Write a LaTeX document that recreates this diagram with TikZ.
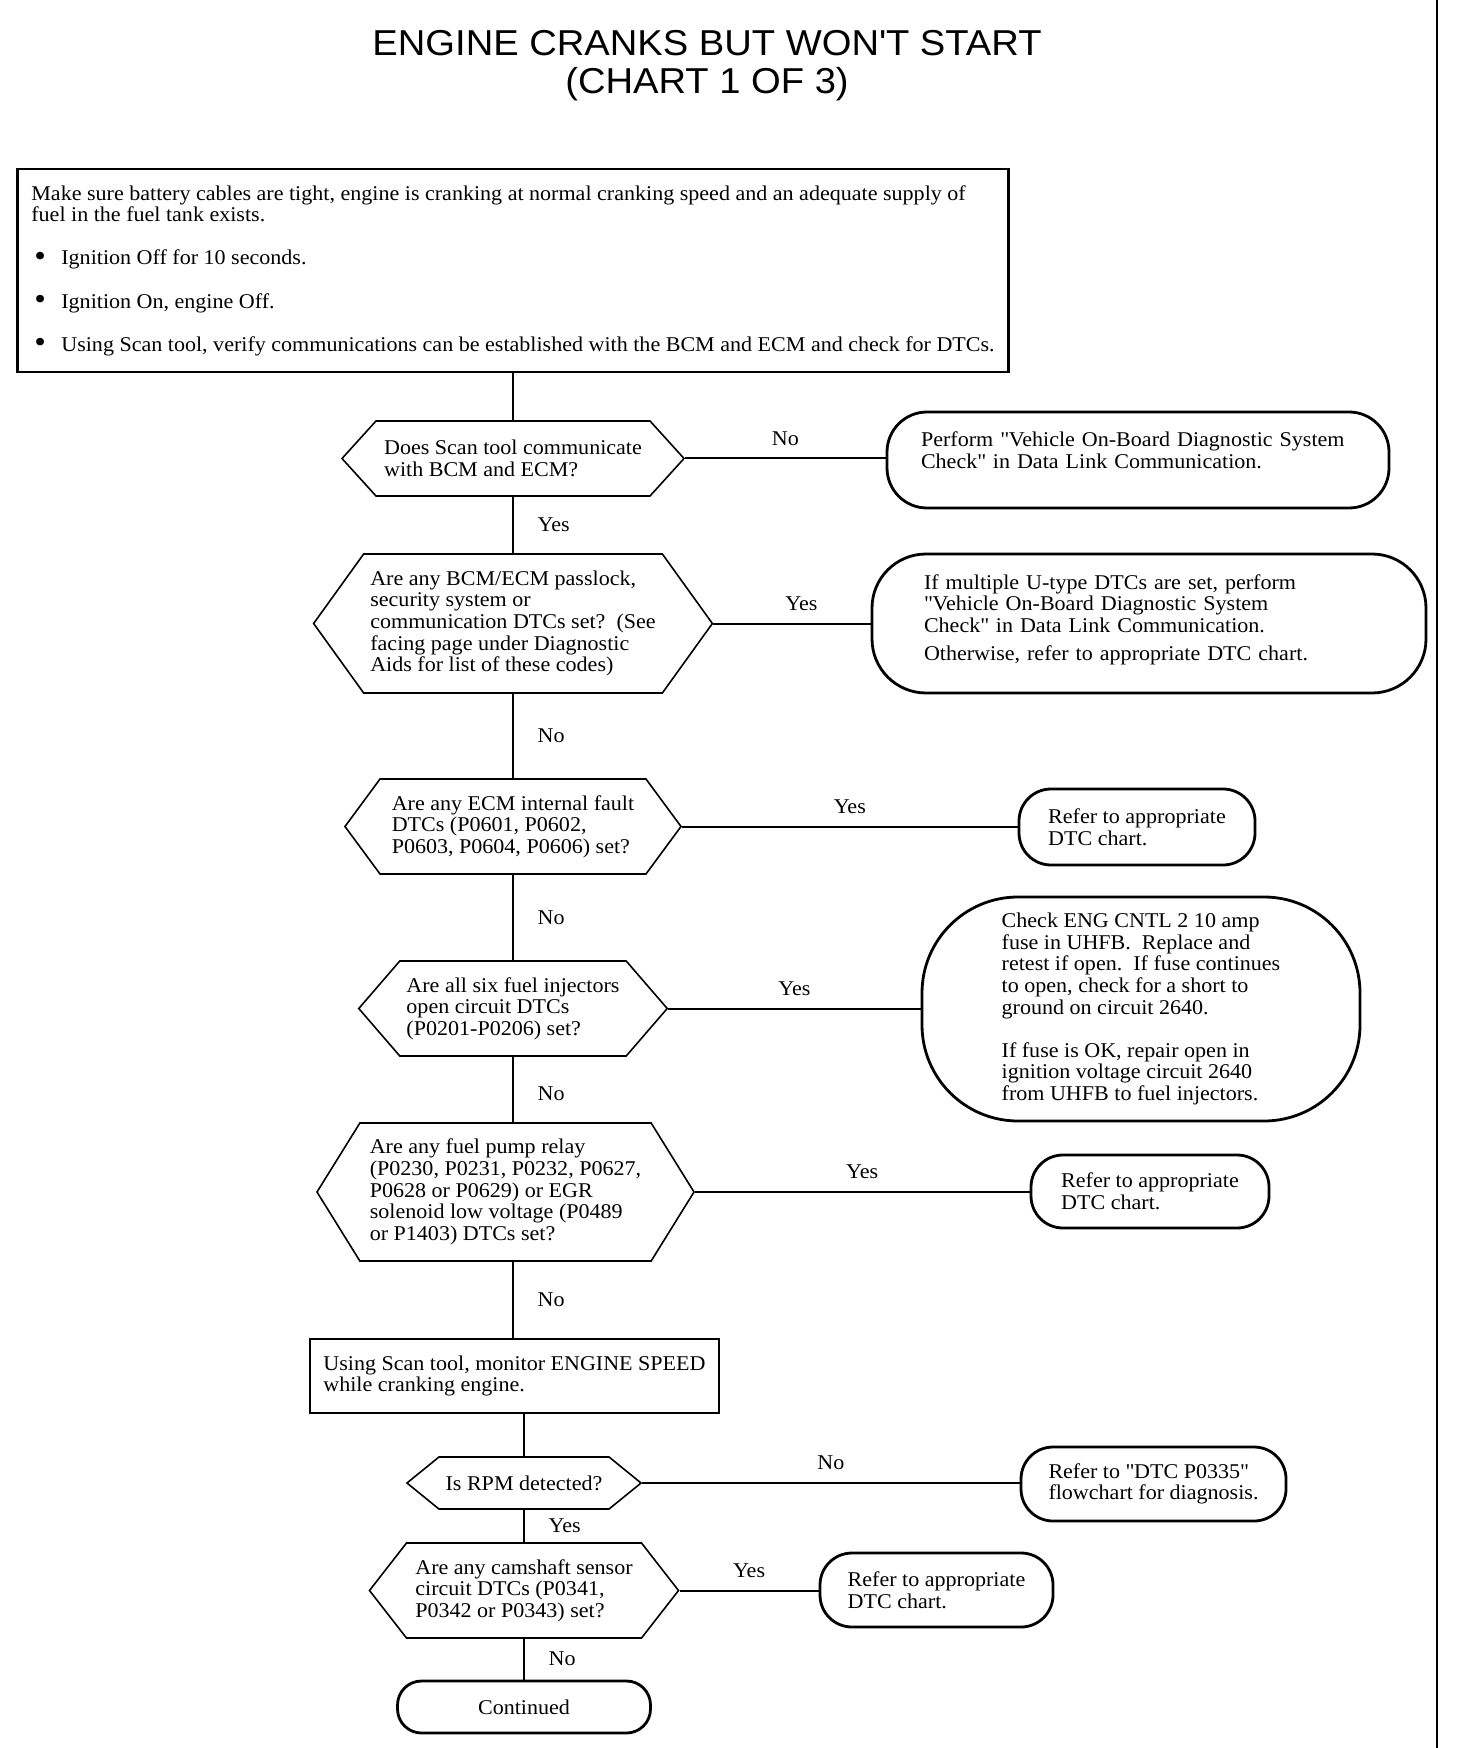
\documentclass[tikz,border=0pt]{standalone}
\usepackage{fontspec}
\setmainfont{Liberation Serif}[FakeStretch=1.05]
\newfontfamily\titlefont{Liberation Sans}[FakeStretch=1.06]
\usepackage{graphicx}
\usepackage{tikz}
\usetikzlibrary{shapes.symbols, positioning, calc}
\newcommand{\chartfont}{\fontsize{10.5pt}{10.8pt}\selectfont}
\newcommand{\dotmark}{\makebox[15pt][l]{\hspace{1.5pt}\raisebox{-0.6pt}{\scalebox{1.5}{\textbullet}}}}
\tikzstyle{task} = [rectangle, draw, line width=1.4pt, align=left, font=\chartfont]
\tikzstyle{query} = [signal, signal to=west and east, draw, line width=0.8pt, align=left, inner ysep=0pt, font=\chartfont]
\tikzstyle{outcome} = [rectangle, draw, rounded corners=16pt, line width=1.4pt, align=left, font=\chartfont]
\tikzstyle{flow} = [draw, line width=1pt]
\tikzstyle{spine} = [draw, line width=0.6pt]
\tikzstyle{answer} = [font=\chartfont, inner sep=2pt]

\begin{document}
\begin{tikzpicture}[x=0.5pt, y=-0.5pt]
	\useasboundingbox (0,0) rectangle (1456,1748);

	\node [font=\titlefont\fontsize{18pt}{19pt}\selectfont, align=center] (title) at (707,65.5) {ENGINE CRANKS BUT WON\textquotesingle T START\\(CHART 1 OF 3)};

	\node [task, minimum width=495.5pt, minimum height=101.5pt] (start) at (513,270.5) {
		Make sure battery cables are tight, engine is cranking at normal cranking speed and an adequate supply of\\
		fuel in the fuel tank exists.\\[10.8pt]
		\dotmark Ignition Off for 10 seconds.\\[10.8pt]
		\dotmark Ignition On, engine Off.\\[10.8pt]
		\dotmark Using Scan tool, verify communications can be established with the BCM and ECM and check for DTCs.
	};

	% questions down the middle
	\node [query, minimum width=171pt, minimum height=37.5pt, signal pointer angle=95.6] (scantool) at (513,458.5) {
		Does Scan tool communicate\\
		with BCM and ECM?
	};
	\node [query, minimum width=196.5pt, minimum height=69.5pt, signal pointer angle=108.5] (passlock) at (513,623.5) {
		Are any BCM/ECM passlock,\\
		security system or\\
		communication DTCs set?~~(See\\
		facing page under Diagnostic\\
		Aids for list of these codes)
	};
	\node [query, minimum width=168pt, minimum height=47.5pt, signal pointer angle=107.2] (internal) at (513,826.5) {
		Are any ECM internal fault\\
		DTCs (P0601, P0602,\\
		P0603, P0604, P0606) set?
	};
	\node [query, minimum width=153pt, minimum height=47.5pt, signal pointer angle=98.4] (injectors) at (513,1008.5) {
		Are all six fuel injectors\\
		open circuit DTCs\\
		(P0201-P0206) set?
	};
	\node [query, minimum width=188.5pt, minimum height=69pt, signal pointer angle=116.3] (pumprelay) at (505.5,1192) {
		Are any fuel pump relay\\
		(P0230, P0231, P0232, P0627,\\
		P0628 or P0629) or EGR\\
		solenoid low voltage (P0489\\
		or P1403) DTCs set?
	};
	\node [task, minimum width=204.5pt, minimum height=37pt] (monitor) at (514.5,1376) {
		Using Scan tool, monitor ENGINE SPEED\\
		while cranking engine.
	};
	\node [query, minimum width=116.5pt, minimum height=26pt, signal pointer angle=78.2, align=center] (rpm) at (524,1483) {Is RPM detected?};
	\node [query, minimum width=154.5pt, minimum height=47.5pt, signal pointer angle=104.2] (camshaft) at (524,1590.5) {
		Are any camshaft sensor\\
		circuit DTCs (P0341,\\
		P0342 or P0343) set?
	};
	\node [outcome, minimum width=126.5pt, minimum height=26pt, rounded corners=12pt, align=center] (continued) at (524,1707) {Continued};

	% results on the right
	\node [outcome, minimum width=251pt, minimum height=48pt, rounded corners=20pt, text width=217pt, inner xsep=0pt] (obdcheck) at (1138,460) {
		Perform \textquotedbl Vehicle On-Board Diagnostic System\\
		Check\textquotedbl\ in Data Link Communication.\\[-0.8pt]~
	};
	\node [outcome, minimum width=277pt, minimum height=69.5pt, rounded corners=27pt, text width=225pt, inner xsep=0pt] (utype) at (1149,623.5) {
		If multiple U-type DTCs are set, perform\\
		\textquotedbl Vehicle On-Board Diagnostic System\\
		Check\textquotedbl\ in Data Link Communication.\\[3.3pt]
		Otherwise, refer to appropriate DTC chart.\\[-4.8pt]~
	};
	\node [outcome, minimum width=118pt, minimum height=38pt] (dtcone) at (1137,827) {
		Refer to appropriate\\
		DTC chart.
	};
	\node [outcome, minimum width=219pt, minimum height=112pt, rounded corners=48pt] (fuse) at (1141,1009) {
		Check ENG CNTL 2 10 amp\\
		fuse in UHFB.~~Replace and\\
		retest if open.~~If fuse continues\\
		to open, check for a short to\\
		ground on circuit 2640.\\[10.8pt]
		If fuse is OK, repair open in\\
		ignition voltage circuit 2640\\
		from UHFB to fuel injectors.
	};
	\node [outcome, minimum width=119pt, minimum height=36.5pt] (dtctwo) at (1150,1191.5) {
		Refer to appropriate\\
		DTC chart.
	};
	\node [outcome, minimum width=132.5pt, minimum height=37pt] (ckp) at (1153.5,1484) {
		Refer to \textquotedbl DTC P0335\textquotedbl\\
		flowchart for diagnosis.
	};
	\node [outcome, minimum width=116.5pt, minimum height=37pt] (dtcthree) at (936.5,1590) {
		Refer to appropriate\\
		DTC chart.
	};

	% page edge
	\draw [line width=1.3pt] (1437,0) -- (1437,1748);

	% main line
	\draw [spine] (start.south) -- (scantool.north);
	\draw [spine] (scantool.south) -- node[answer, right=10pt] {Yes} (passlock.north);
	\draw [spine] (passlock.south) -- node[answer, right=10pt] {No} (internal.north);
	\draw [spine] (internal.south) -- node[answer, right=10pt] {No} (injectors.north);
	\draw [spine] (injectors.south) -- node[answer, right=10pt, pos=0.57] {No} (injectors.south |- pumprelay.north);
	\draw [spine] (injectors.south |- pumprelay.south) -- node[answer, right=10pt] {No} (injectors.south |- monitor.north);
	\draw [spine] (rpm.north |- monitor.south) -- (rpm.north);
	\draw [spine] (rpm.south) -- node[answer, right=10pt] {Yes} (camshaft.north);
	\draw [spine] (camshaft.south) -- node[answer, right=10pt] {No} (continued.north);

	% branches
	\draw [flow] (scantool.east) -- node[answer, above=4pt] {No} (scantool.east -| obdcheck.west);
	\draw [flow] (passlock.east) -- node[answer, above=4pt, pos=0.56] {Yes} (passlock.east -| utype.west);
	\draw [flow] (internal.east) -- node[answer, above=4pt] {Yes} (internal.east -| dtcone.west);
	\draw [flow] (injectors.east) -- node[answer, above=4pt] {Yes} (injectors.east -| fuse.west);
	\draw [flow] (pumprelay.east) -- node[answer, above=4pt] {Yes} (pumprelay.east -| dtctwo.west);
	\draw [flow] (rpm.east) -- node[answer, above=4pt] {No} (rpm.east -| ckp.west);
	\draw [flow] (camshaft.east) -- node[answer, above=4pt] {Yes} (camshaft.east -| dtcthree.west);

\end{tikzpicture}
\end{document}
